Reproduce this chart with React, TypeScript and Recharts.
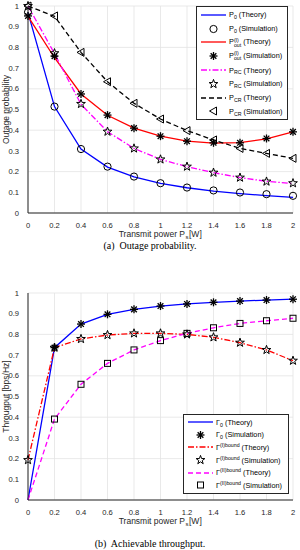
import React from 'react';
import { LineChart, Line, XAxis, YAxis, CartesianGrid } from 'recharts';

// transmit power Ps [W]
const power = [0, 0.2, 0.4, 0.6, 0.8, 1, 1.2, 1.4, 1.6, 1.8, 2];
const xTicks = [0, 0.2, 0.4, 0.6, 0.8, 1, 1.2, 1.4, 1.6, 1.8, 2];
const yTicks = [0, 0.1, 0.2, 0.3, 0.4, 0.5, 0.6, 0.7, 0.8, 0.9, 1];

// (a) outage probability
const p0Theory = [0.968, 0.514, 0.309, 0.222, 0.174, 0.143, 0.122, 0.106, 0.094, 0.084, 0.075];
const p0Sim = [0.97, 0.514, 0.309, 0.224, 0.176, 0.144, 0.123, 0.109, 0.099, 0.091, 0.083];
const poutTheory = [0.95, 0.75, 0.575, 0.472, 0.41, 0.371, 0.347, 0.338, 0.34, 0.358, 0.392];
const poutSim = [0.952, 0.758, 0.575, 0.473, 0.41, 0.371, 0.347, 0.339, 0.339, 0.36, 0.392];
const prcTheory = [1.0, 0.77, 0.525, 0.393, 0.312, 0.259, 0.224, 0.195, 0.171, 0.153, 0.142];
const prcSim = [1.0, 0.772, 0.527, 0.393, 0.312, 0.259, 0.224, 0.195, 0.171, 0.152, 0.144];
const pcrTheory = [1.0, 0.95, 0.776, 0.634, 0.53, 0.454, 0.398, 0.353, 0.312, 0.288, 0.264];
const pcrSim = [1.0, 0.952, 0.776, 0.634, 0.53, 0.454, 0.398, 0.353, 0.312, 0.288, 0.264];

// (b) achievable throughput
const g0Theory = [0, 0.736, 0.85, 0.897, 0.921, 0.937, 0.947, 0.955, 0.961, 0.966, 0.97];
const g0Sim = [null, 0.736, 0.85, 0.897, 0.921, 0.937, 0.947, 0.955, 0.961, 0.966, 0.97];
const g1Theory = [0.193, 0.736, 0.778, 0.797, 0.805, 0.805, 0.8, 0.786, 0.76, 0.725, 0.673];
const g1Sim = [0.193, 0.736, 0.778, 0.797, 0.805, 0.805, 0.8, 0.786, 0.76, 0.725, 0.673];
const g2Theory = [0, 0.391, 0.559, 0.66, 0.725, 0.77, 0.805, 0.832, 0.853, 0.866, 0.878];
const g2Sim = [null, 0.391, 0.559, 0.66, 0.725, 0.77, 0.805, 0.832, 0.853, 0.866, 0.878];

const outageRows = power.map((x, i) => ({
  x, p0T: p0Theory[i], p0S: p0Sim[i], poT: poutTheory[i], poS: poutSim[i],
  rcT: prcTheory[i], rcS: prcSim[i], crT: pcrTheory[i], crS: pcrSim[i],
}));
const thrRows = power.map((x, i) => ({
  x, g0T: g0Theory[i], g0S: g0Sim[i], g1T: g1Theory[i], g1S: g1Sim[i], g2T: g2Theory[i], g2S: g2Sim[i],
}));

const FONT = '"Liberation Sans", Arial, sans-serif';
const AX = '#262626';
const DASHDOT = '6 2 1.5 2';
const DASHED = '5 3';

function starPath(cx: number, cy: number, R: number) {
  const r = R * 0.4;
  let d = '';
  for (let i = 0; i < 10; i++) {
    const a = -Math.PI / 2 + (i * Math.PI) / 5;
    const rad = i % 2 === 0 ? R : r;
    d += (i ? 'L' : 'M') + (cx + rad * Math.cos(a)).toFixed(2) + ' ' + (cy + rad * Math.sin(a)).toFixed(2);
  }
  return d + 'Z';
}

const Marker = ({ kind, cx, cy }: { kind: string; cx: number; cy: number }) => {
  const s = { fill: 'none', stroke: '#000', strokeWidth: 1 };
  if (kind === 'circle') return <circle cx={cx} cy={cy} r={3.6} {...s} />;
  if (kind === 'star') return <path d={starPath(cx, cy, 4.6)} {...s} />;
  if (kind === 'square') return <rect x={cx - 3} y={cy - 3} width={6} height={6} {...s} />;
  if (kind === 'tri') return <path d={`M${cx - 4} ${cy}L${cx + 3} ${cy - 4}L${cx + 3} ${cy + 4}Z`} {...s} />;
  const R = 4;
  const k = R * 0.707;
  return (
    <g stroke="#000" strokeWidth={1.3}>
      <line x1={cx - R} y1={cy} x2={cx + R} y2={cy} />
      <line x1={cx} y1={cy - R} x2={cx} y2={cy + R} />
      <line x1={cx - k} y1={cy - k} x2={cx + k} y2={cy + k} />
      <line x1={cx - k} y1={cy + k} x2={cx + k} y2={cy - k} />
    </g>
  );
};

const dotFor = (kind: string) => (p: any) => {
  if (p.value == null || p.cy == null) return <g key={p.index} />;
  return <Marker key={p.index} kind={kind} cx={p.cx} cy={p.cy} />;
};

const Sub = ({ children }: { children: React.ReactNode }) => (
  <span style={{ fontSize: '0.72em', position: 'relative', top: '0.35em' }}>{children}</span>
);
const Sup = ({ children }: { children: React.ReactNode }) => (
  <span style={{ fontSize: '0.72em', position: 'relative', top: '-0.55em' }}>{children}</span>
);
const SupSub = ({ sup, sub }: { sup: string; sub: string }) => (
  <span style={{ display: 'inline-flex', flexDirection: 'column', fontSize: '0.72em', lineHeight: 0.95, verticalAlign: 'middle' }}>
    <span>{sup}</span>
    <span>{sub}</span>
  </span>
);

type LegItem = { line?: { color: string; dash?: string }; marker?: string; label: React.ReactNode };

const LegendBox = ({ items, left, top, width, rowH }: { items: LegItem[]; left: number; top: number; width: number; rowH: number }) => (
  <div style={{ position: 'absolute', left, top, width, background: '#fff', border: `1px solid ${AX}`, boxSizing: 'border-box', padding: '1px 0', fontFamily: FONT, fontSize: 7.3, color: '#000' }}>
    {items.map((it, i) => (
      <div key={i} style={{ height: rowH, display: 'flex', alignItems: 'center' }}>
        <svg width={25} height={10} style={{ marginLeft: 4, marginRight: 3, flex: 'none' }}>
          {it.line && <line x1={0} y1={5} x2={25} y2={5} stroke={it.line.color} strokeWidth={1.3} strokeDasharray={it.line.dash} />}
          {it.marker && <Marker kind={it.marker} cx={12.5} cy={5} />}
        </svg>
        <span style={{ whiteSpace: 'nowrap' }}>{it.label}</span>
      </div>
    ))}
  </div>
);

const tickStyle = { fontSize: 7.6, fill: AX, fontFamily: FONT };

// axis title drawn as three plain texts so the subscript sits on its own
const xLabel = (props: any) => {
  const vb = props.viewBox;
  const cx = vb.x + vb.width / 2;
  const y = vb.y + 24;
  const common = { fill: AX, fontFamily: FONT };
  return (
    <g>
      <text x={cx + 24.5} y={y} textAnchor="end" fontSize={8.5} {...common}>Transmit power P</text>
      <text x={cx + 25} y={y + 2} textAnchor="start" fontSize={6} {...common}>s</text>
      <text x={cx + 28.5} y={y} textAnchor="start" fontSize={8.5} {...common}>[W]</text>
    </g>
  );
};

const yLabel = (text: string) => (props: any) => {
  const vb = props.viewBox;
  const cy = vb.y + vb.height / 2;
  return (
    <text x={9} y={cy} transform={`rotate(-90 9 ${cy})`} textAnchor="middle" fontSize={8.5} fill={AX} fontFamily={FONT}>
      {text}
    </text>
  );
};

type Theory = { key: string; color: string; dash?: string };
type Sim = { key: string; marker: string };

const Panel = ({ rows, theory, sims, label }: { rows: any[]; theory: Theory[]; sims: Sim[]; label: string }) => (
  <LineChart width={300} height={240} data={rows} margin={{ top: 6, right: 7, bottom: 0, left: 8 }}>
    <CartesianGrid stroke="#e3e3e3" strokeWidth={0.8} />
    <XAxis dataKey="x" type="number" domain={[0, 2]} ticks={xTicks} height={27} tick={tickStyle}
      tickLine={false} tickMargin={4} axisLine={{ stroke: AX }} tickFormatter={(v) => String(v)} label={{ content: xLabel }} />
    <XAxis xAxisId="top" orientation="top" dataKey="x" type="number" domain={[0, 2]} height={0} tick={false} tickLine={false} axisLine={{ stroke: AX }} />
    <YAxis type="number" domain={[0, 1]} ticks={yTicks} width={20} tick={tickStyle} tickLine={false} tickMargin={3}
      axisLine={{ stroke: AX }} tickFormatter={(v) => String(v)} label={{ content: yLabel(label) }} />
    <YAxis yAxisId="right" orientation="right" domain={[0, 1]} width={0} tick={false} tickLine={false} axisLine={{ stroke: AX }} />
    {theory.map((t) => (
      <Line key={t.key} dataKey={t.key} type="linear" stroke={t.color} strokeWidth={1.3} strokeDasharray={t.dash}
        dot={false} activeDot={false} isAnimationActive={false} />
    ))}
    {sims.map((s) => (
      <Line key={s.key} dataKey={s.key} type="linear" stroke="none" dot={dotFor(s.marker)} activeDot={false} isAnimationActive={false} />
    ))}
  </LineChart>
);

const captionStyle: React.CSSProperties = {
  position: 'absolute', left: 0, width: 300, textAlign: 'center', fontFamily: '"Liberation Serif", "Times New Roman", serif', fontSize: 10, color: '#000',
};

export default function App() {
  const outLegend: LegItem[] = [
    { line: { color: '#0000ff' }, label: <>P<Sub>0</Sub> (Theory)</> },
    { marker: 'circle', label: <>P<Sub>0</Sub> (Simulation)</> },
    { line: { color: '#ff0000' }, label: <>P<SupSub sup="(I)" sub="out" /> (Theory)</> },
    { marker: 'asterisk', label: <>P<SupSub sup="(I)" sub="out" /> (Simulation)</> },
    { line: { color: '#ff00ff', dash: DASHDOT }, label: <>P<Sub>RC</Sub> (Theory)</> },
    { marker: 'star', label: <>P<Sub>RC</Sub> (Simulation)</> },
    { line: { color: '#000', dash: DASHED }, label: <>P<Sub>CR</Sub> (Theory)</> },
    { marker: 'tri', label: <>P<Sub>CR</Sub> (Simulation)</> },
  ];
  const thrLegend: LegItem[] = [
    { line: { color: '#0000ff' }, label: <>Γ<Sub>0</Sub> (Theory)</> },
    { marker: 'asterisk', label: <>Γ<Sub>0</Sub> (Simulation)</> },
    { line: { color: '#ff0000', dash: DASHDOT }, label: <>Γ<Sup>(I)bound</Sup> (Theory)</> },
    { marker: 'star', label: <>Γ<Sup>(I)bound</Sup> (Simulation)</> },
    { line: { color: '#ff00ff', dash: DASHED }, label: <>Γ<Sup>(II)bound</Sup> (Theory)</> },
    { marker: 'square', label: <>Γ<Sup>(II)bound</Sup> (Simulation)</> },
  ];
  return (
    <div style={{ position: 'relative', width: 300, height: 550, background: '#fff', overflow: 'hidden' }}>
      <style>{'body{margin:0}'}</style>
      <div style={{ position: 'absolute', left: 0, top: 0 }}>
        <Panel rows={outageRows} label="Outage probability"
          theory={[{ key: 'p0T', color: '#0000ff' }, { key: 'poT', color: '#ff0000' }, { key: 'rcT', color: '#ff00ff', dash: DASHDOT }, { key: 'crT', color: '#000', dash: DASHED }]}
          sims={[{ key: 'p0S', marker: 'circle' }, { key: 'poS', marker: 'asterisk' }, { key: 'rcS', marker: 'star' }, { key: 'crS', marker: 'tri' }]} />
      </div>
      <LegendBox items={outLegend} left={196} top={6} width={92} rowH={13.8} />
      <div style={{ ...captionStyle, top: 240 }}>(a)&nbsp; Outage probability.</div>
      <div style={{ position: 'absolute', left: 0, top: 287 }}>
        <Panel rows={thrRows} label="Througput [bps/Hz]"
          theory={[{ key: 'g0T', color: '#0000ff' }, { key: 'g1T', color: '#ff0000', dash: DASHDOT }, { key: 'g2T', color: '#ff00ff', dash: DASHED }]}
          sims={[{ key: 'g0S', marker: 'asterisk' }, { key: 'g1S', marker: 'star' }, { key: 'g2S', marker: 'square' }]} />
      </div>
      <LegendBox items={thrLegend} left={183} top={414} width={106} rowH={12.6} />
      <div style={{ ...captionStyle, top: 538 }}>(b)&nbsp; Achievable throughput.</div>
    </div>
  );
}
